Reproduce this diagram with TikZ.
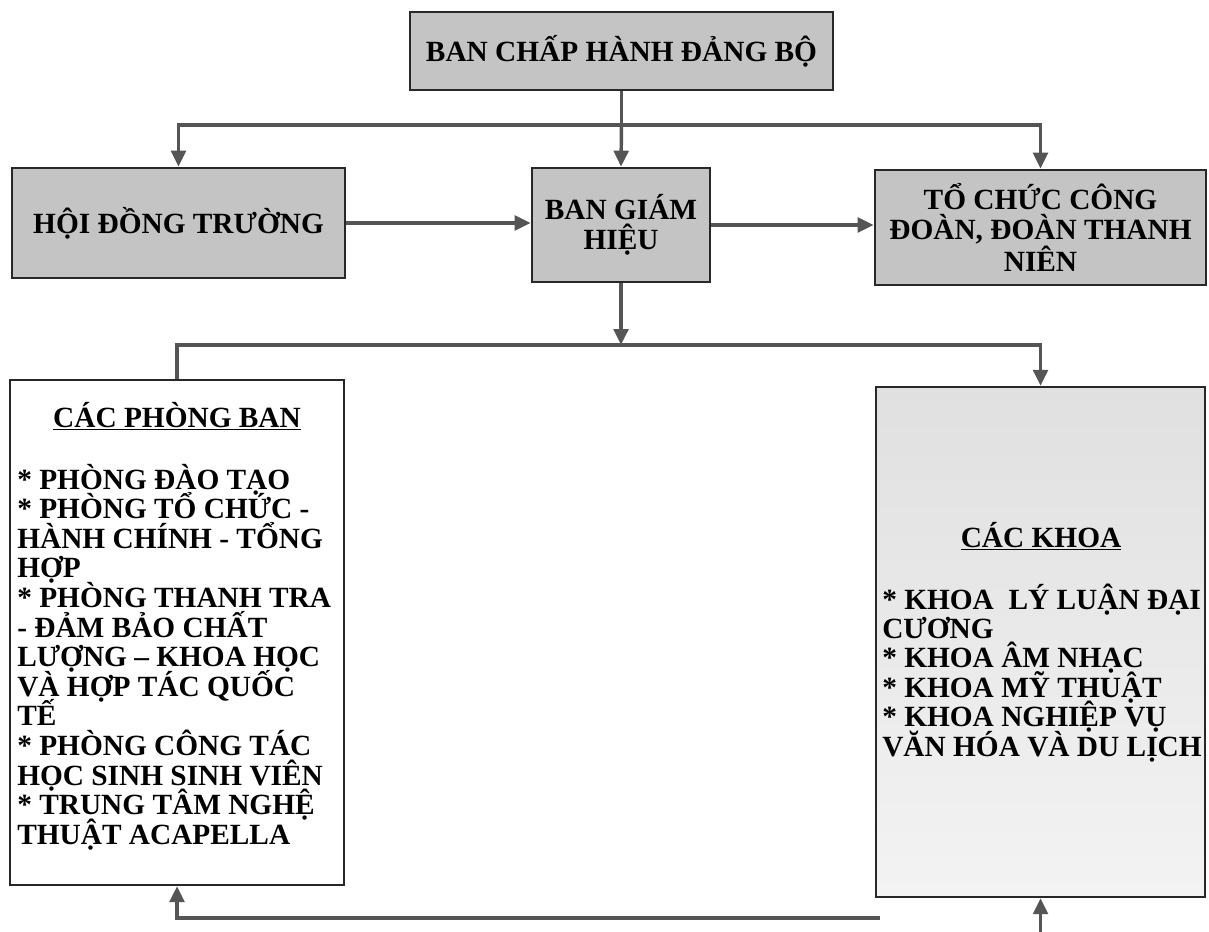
\documentclass[tikz,border=0pt]{standalone}
\usepackage{fontspec}
\setmainfont{Liberation Serif}
\usetikzlibrary{arrows.meta,calc}
\definecolor{boxgray}{RGB}{196,196,196}
\definecolor{linegray}{RGB}{85,85,85}
\definecolor{edgegray}{RGB}{40,40,40}
\definecolor{khtop}{RGB}{224,224,224}
\definecolor{khbot}{RGB}{243,243,243}
\begin{document}
\begin{tikzpicture}[x=0.75pt,y=-0.75pt,
  txt/.style={font=\bfseries\fontsize{22}{22.4}\selectfont, text=black},
  graybox/.style={draw=edgegray, line width=2pt, fill=boxgray, inner sep=0pt, align=center, txt},
  bigbox/.style={draw=edgegray, line width=1.8pt, inner sep=0pt},
  itemtxt/.style={txt, inner sep=0pt, anchor=base west},
  headtxt/.style={txt, inner sep=0pt, anchor=base},
  conn/.style={draw=linegray, line width=2.6pt},
  arr/.style={conn, -{Triangle[length=12pt,width=11pt]}, color=linegray}
]
\useasboundingbox (0,0) rectangle (1209,931);

% boxes
\node[graybox, minimum width=317.25pt, minimum height=58.5pt] (top) at (621.5,51) {BAN CHẤP HÀNH ĐẢNG BỘ};
\node[graybox, minimum width=249.75pt, minimum height=82.5pt] (hdt) at (178.5,223) {HỘI ĐỒNG TRƯỜNG};
\node[graybox, minimum width=133.5pt, minimum height=85.5pt] (bgh) at (621,225) {BAN GIÁM\\HIỆU};
\node[graybox, minimum width=248.25pt, minimum height=86.25pt] (tc) at (1040.5,227.5) {TỔ CHỨC CÔNG\\ĐOÀN, ĐOÀN THANH\\NIÊN};
\node[bigbox, fill=white, minimum width=250.5pt, minimum height=378.75pt] (pb) at (177,632.5) {};
\node[bigbox, top color=khtop, bottom color=khbot, minimum width=246.75pt, minimum height=382.5pt] (kh) at (1040.5,642) {};

% texts of the big boxes
\node[headtxt] (pbh) at (177,427) {\underline{CÁC PHÒNG BAN}};
\foreach \t [count=\i from 0] in {* PHÒNG ĐÀO TẠO, * PHÒNG TỔ CHỨC -, HÀNH CHÍNH - TỔNG, HỢP, * PHÒNG THANH TRA, - ĐẢM BẢO CHẤT, LƯỢNG – KHOA HỌC, VÀ HỢP TÁC QUỐC, TẾ, * PHÒNG CÔNG TÁC, HỌC SINH SINH VIÊN, * TRUNG TÂM NGHỆ, THUẬT ACAPELLA}
  \node[itemtxt] (pb\i) at (17,{489+29.6*\i}) {\t};
\node[headtxt] (khh) at (1041,547) {\underline{CÁC KHOA}};
\foreach \t [count=\i from 0] in {* KHOA\ \ LÝ LUẬN ĐẠI, CƯƠNG, * KHOA ÂM NHẠC, * KHOA MỸ THUẬT, * KHOA NGHIỆP VỤ, VĂN HÓA VÀ DU LỊCH}
  \node[itemtxt] (kh\i) at (882,{609+29.4*\i}) {\t};

% helper coordinates
\coordinate (y1) at (0,125);
\coordinate (y2) at (0,345);
\coordinate (b1) at (880,918);
\coordinate (y4) at (0,940);

% connectors
\draw[conn] (top.south) -- (top.south |- y1) coordinate (j1);
\draw[arr] (j1) -| (hdt.north);
\draw[arr] (j1) -| (tc.north);
\draw[arr] (j1) -- (bgh.north);
\draw[arr] (hdt.east) -- (hdt.east -| bgh.west);
\draw[arr] (bgh.east) -- (bgh.east -| tc.west);
\draw[arr] (bgh.south) -- (bgh.south |- y2) coordinate (j2);
\draw[conn] (j2) -| (pb.north);
\draw[arr] (j2) -| (kh.north);
\draw[arr] (b1) -| (pb.south);
\draw[arr] (kh.south |- y4) -- (kh.south);
\end{tikzpicture}
\end{document}
